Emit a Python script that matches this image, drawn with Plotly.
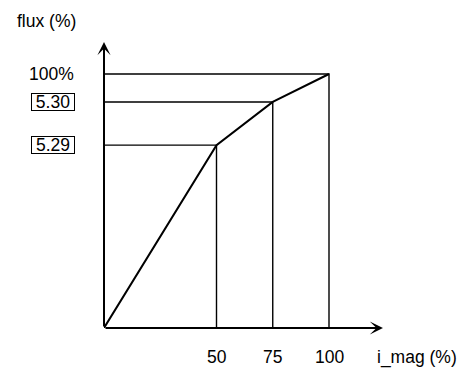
import plotly.graph_objects as go

# data
x_points = [0, 50, 75, 100]          # i_mag (%)
y_points = [0, 72, 89, 100]          # flux (%) levels as drawn
x_tick_labels = ["50", "75", "100"]
y_tick_labels = ["5.29", "5.30", "100%"]
y_label_boxed = [True, True, False]
x_title = "i_mag (%)"
y_title = "flux (%)"

X_MAX = 124
Y_MAX = 112.6
FONT = "Liberation Sans, Arial, sans-serif"
FS = 17.5

fig = go.Figure()

# main curve
fig.add_trace(go.Scatter(x=x_points, y=y_points, mode="lines",
                         line=dict(color="black", width=2), hoverinfo="skip"))

# guide lines
for xv, yv in zip(x_points[1:], y_points[1:]):
    fig.add_trace(go.Scatter(x=[0, xv, xv], y=[yv, yv, 0], mode="lines",
                             line=dict(color="black", width=1.4), hoverinfo="skip"))

annotations = []
# axes arrows
annotations.append(dict(x=X_MAX, y=0, ax=0, ay=0, xref="x", yref="y", axref="x", ayref="y",
                        showarrow=True, arrowhead=3, arrowsize=1.1, arrowwidth=2,
                        arrowcolor="black", text=""))
annotations.append(dict(x=0, y=Y_MAX, ax=0, ay=0, xref="x", yref="y", axref="x", ayref="y",
                        showarrow=True, arrowhead=3, arrowsize=1.1, arrowwidth=2,
                        arrowcolor="black", text=""))

# x tick labels
for xv, lab in zip(x_points[1:], x_tick_labels):
    annotations.append(dict(x=xv, y=0, xref="x", yref="y", text=lab, showarrow=False,
                            yshift=-29, font=dict(family=FONT, size=FS, color="black")))
# y tick labels
for yv, lab, boxed in zip(y_points[1:], y_tick_labels, y_label_boxed):
    d = dict(x=0, y=yv, xref="x", yref="y", text=lab, showarrow=False,
             xanchor="right", xshift=-29, borderpad=0,
             font=dict(family=FONT, size=FS, color="black"))
    if boxed:
        d.update(bordercolor="black", borderwidth=1, width=42, height=16, align="center")
    annotations.append(d)

# axis titles
annotations.append(dict(x=X_MAX, y=0, xref="x", yref="y", text=x_title, showarrow=False,
                        xanchor="left", xshift=-8, yshift=-29,
                        font=dict(family=FONT, size=FS, color="black")))
annotations.append(dict(x=0, y=Y_MAX, xref="x", yref="y", text=y_title, showarrow=False,
                        xanchor="right", xshift=-26, yshift=21,
                        font=dict(family=FONT, size=FS, color="black")))

fig.update_layout(
    width=460, height=368,
    margin=dict(l=96, r=85, t=34, b=48),
    paper_bgcolor="white", plot_bgcolor="white",
    showlegend=False,
    xaxis=dict(range=[0, X_MAX], visible=False, fixedrange=True),
    yaxis=dict(range=[0, Y_MAX], visible=False, fixedrange=True),
    annotations=annotations,
)
for tr in fig.data:
    tr.cliponaxis = False

fig.write_html("out.html")
